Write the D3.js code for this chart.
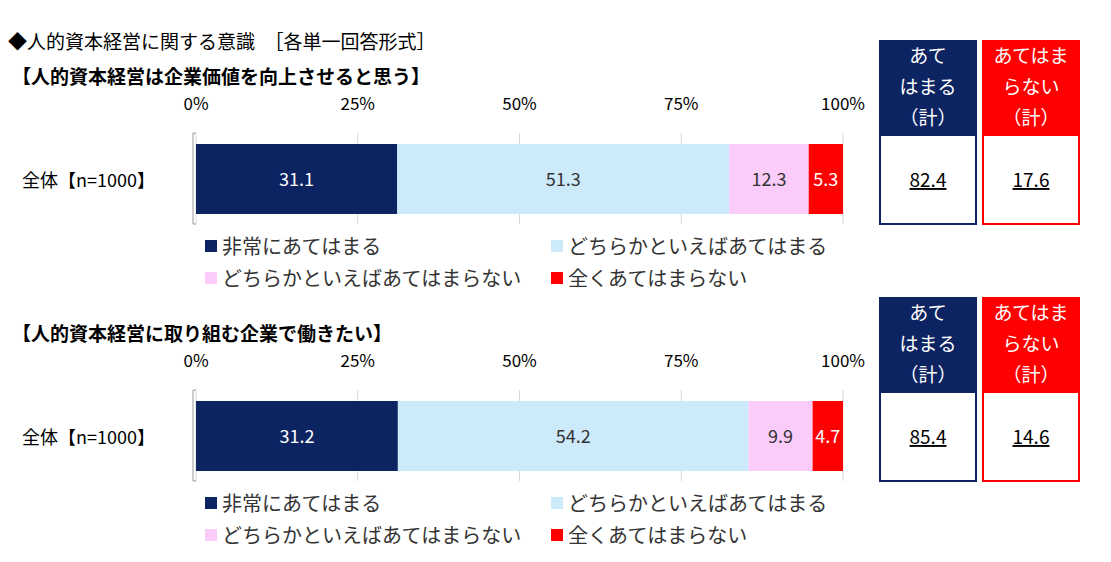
<!DOCTYPE html><html><head><meta charset="utf-8"><script src="https://cdn.jsdelivr.net/npm/d3@7"></script>
<style>body{margin:0;background:#fff}text{font-family:"Noto Sans CJK JP",sans-serif}</style></head><body>
<svg id="c" width="1111" height="562"></svg>
<script>
const series=["非常にあてはまる","どちらかといえばあてはまる","どちらかといえばあてはまらない","全くあてはまらない"];
const colors=["#0d2463","#cdeafb","#fbcbfa","#fe0000"];
const questions=["【人的資本経営は企業価値を向上させると思う】","【人的資本経営に取り組む企業で働きたい】"];
const values1=[31.1,51.3,12.3,5.3];
const values2=[31.2,54.2,9.9,4.7];
const applies=[82.4,85.4];
const notApplies=[17.6,14.6];
const ticks=[0,25,50,75,100];
const svg=d3.select("#c");
svg.append("text").attr("x",8).attr("y",49).attr("font-size",19).text("◆人的資本経営に関する意識　［各単一回答形式］");
const x=d3.scaleLinear().domain([0,100]).range([196,843]);
[values1,values2].forEach((vals,i)=>{
  const oy=i*257;
  const g=svg.append("g").attr("transform",`translate(0,${oy})`);
  g.append("text").attr("x",12).attr("y",84).attr("font-size",19).attr("font-weight","bold").text(questions[i]);
  ticks.forEach(t=>{
    g.append("text").attr("x",x(t)).attr("y",110).attr("text-anchor","middle").attr("font-size",17).text(t+"%");
    g.append("line").attr("x1",x(t)).attr("x2",x(t)).attr("y1",133).attr("y2",224).attr("stroke","#d9d9d9");
  });
  g.append("path").attr("d","M196,133 H193 V224 H196").attr("fill","none").attr("stroke","#999");
  g.append("text").attr("x",22).attr("y",187).attr("font-size",18).text("全体【n=1000】");
  let c=0;
  vals.forEach((v,j)=>{
    g.append("rect").attr("x",x(c)).attr("y",144).attr("width",x(c+v)-x(c)).attr("height",70).attr("fill",colors[j]);
    g.append("text").attr("x",x(c+v/2)).attr("y",186).attr("text-anchor","middle").attr("font-size",18)
      .attr("fill",j==0||j==3?"#fff":"#333").text(v.toFixed(1));
    c+=v;
  });
  const lp=[[205,253],[551,253],[205,285],[551,285]];
  series.forEach((s,j)=>{
    g.append("rect").attr("x",lp[j][0]).attr("y",lp[j][1]-13).attr("width",12).attr("height",12).attr("fill",colors[j]);
    g.append("text").attr("x",lp[j][0]+17).attr("y",lp[j][1]+1).attr("font-size",20).attr("fill","#333").text(s);
  });
  const boxes=[[879,"#0d2463",["あて","はまる","（計）"],applies[i]],[982,"#fe0000",["あてはま","らない","（計）"],notApplies[i]]];
  boxes.forEach(([bx,col,lines,val])=>{
    g.append("rect").attr("x",bx).attr("y",40).attr("width",98).attr("height",95).attr("fill",col);
    g.append("rect").attr("x",bx+1).attr("y",135).attr("width",96).attr("height",89).attr("fill","#fff").attr("stroke",col).attr("stroke-width",2);
    lines.forEach((l,k)=>g.append("text").attr("x",bx+49).attr("y",63+k*31).attr("text-anchor","middle").attr("font-size",19).attr("fill","#fff").text(l));
    g.append("text").attr("x",bx+49).attr("y",187).attr("text-anchor","middle").attr("font-size",19).attr("text-decoration","underline").text(val.toFixed(1));
  });
});
</script></body></html>
